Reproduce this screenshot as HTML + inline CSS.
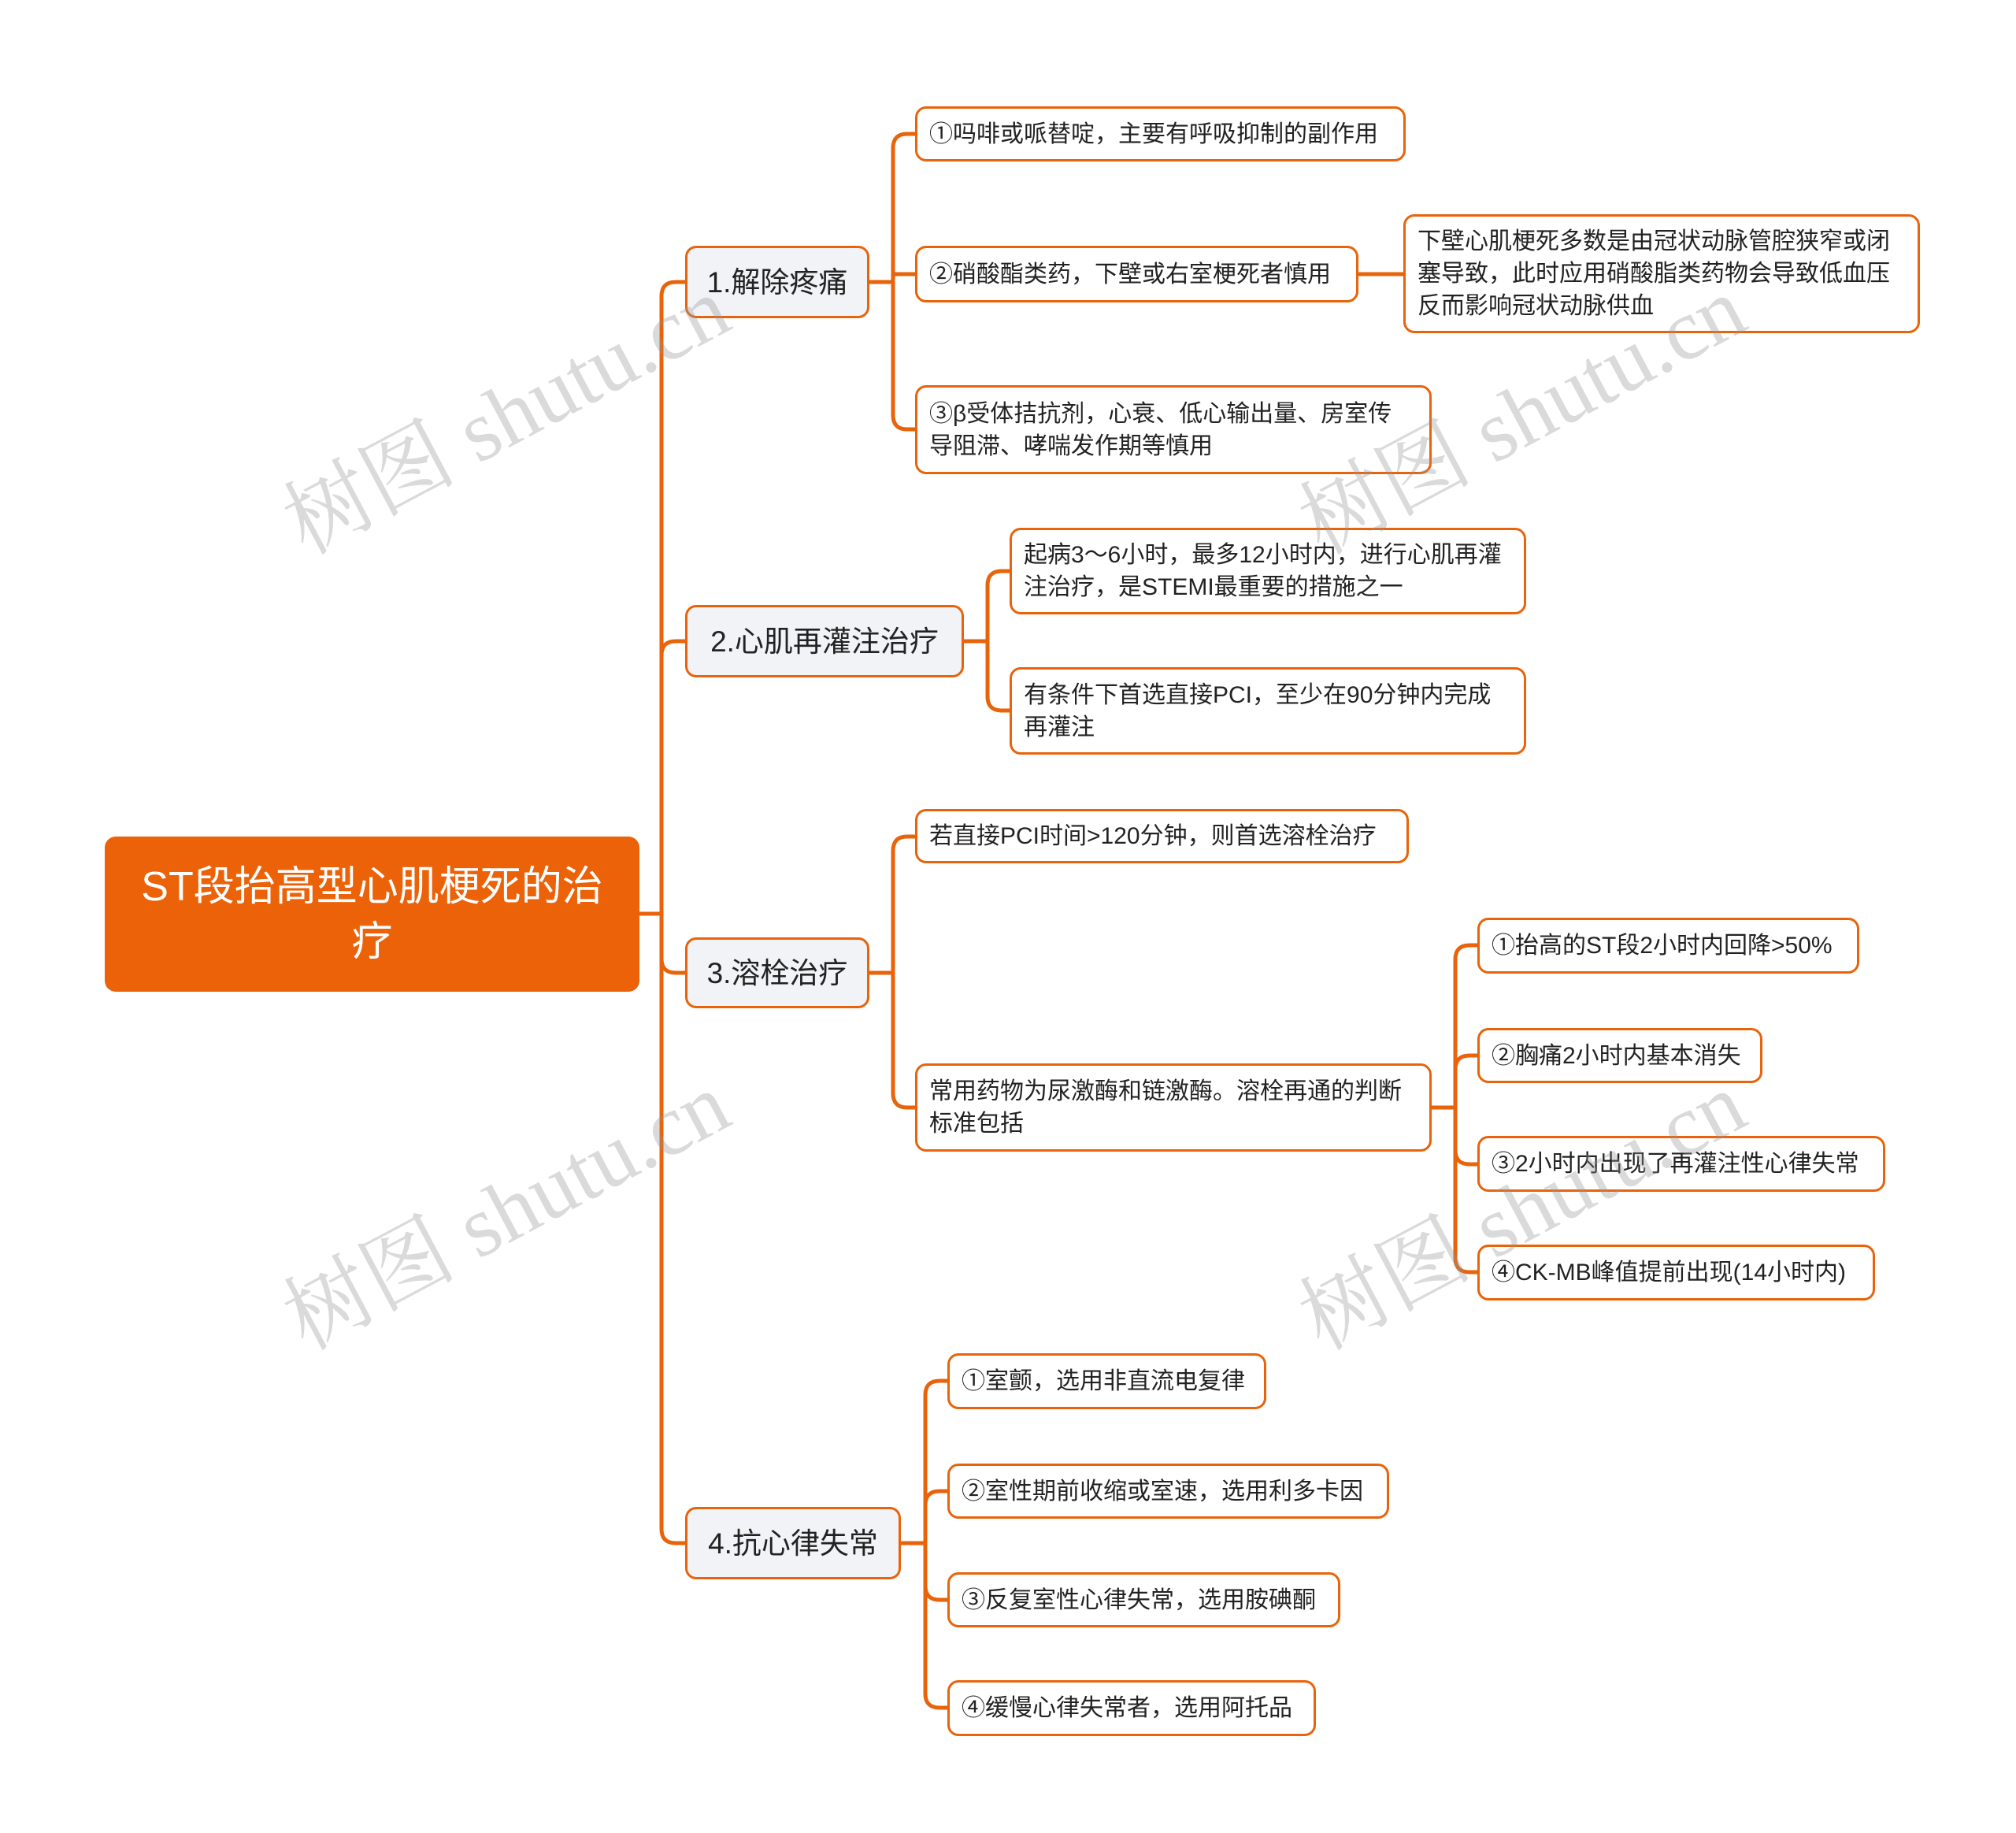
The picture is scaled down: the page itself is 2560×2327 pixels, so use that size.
<!DOCTYPE html>
<html><head><meta charset="utf-8"><style>
html,body{margin:0;padding:0;background:#fff}
body{width:2560px;height:2327px;position:relative;overflow:hidden;font-family:"Liberation Sans","Noto Sans CJK SC",sans-serif}
.b{position:absolute;box-sizing:border-box;border:3px solid #e8630a;border-radius:14px;background:#fff;color:#222;font-size:30px;line-height:41px;padding:0 15px;display:flex;align-items:center}
.l1{background:#f1f3f6;font-size:37px;justify-content:center;padding:0}
.root{position:absolute;left:133px;top:1062px;width:679px;height:197px;background:#eb6209;border-radius:14px;color:#fff;font-size:52px;line-height:70px;text-align:center;display:flex;align-items:center;justify-content:center;padding:0 30px;box-sizing:border-box}
.wm{position:absolute;font-family:"Liberation Serif","Noto Serif CJK SC",serif;font-size:110px;color:rgba(150,150,150,0.35);transform:rotate(-28deg);white-space:nowrap;transform-origin:center}
svg{position:absolute;left:0;top:0}
</style></head><body>
<svg width="2560" height="2327" fill="none" stroke="#e8630a" stroke-width="5">
<path d="M812 1160 H840"/>
<path d="M840 1160 V376 Q840 358 858 358 H870"/>
<path d="M840 1160 V832 Q840 814 858 814 H870"/>
<path d="M840 1160 V1217 Q840 1235 858 1235 H870"/>
<path d="M840 1160 V1941 Q840 1959 858 1959 H870"/>
<path d="M1104 358 H1134"/>
<path d="M1134 358 V188 Q1134 170 1152 170 H1162"/>
<path d="M1134 358 V348 H1162"/>
<path d="M1134 358 V527 Q1134 545 1152 545 H1162"/>
<path d="M1725 348 H1782"/>
<path d="M1224 814 H1254"/>
<path d="M1254 814 V743 Q1254 725 1272 725 H1282"/>
<path d="M1254 814 V884 Q1254 902 1272 902 H1282"/>
<path d="M1104 1235 H1134"/>
<path d="M1134 1235 V1080 Q1134 1062 1152 1062 H1162"/>
<path d="M1134 1235 V1388 Q1134 1406 1152 1406 H1162"/>
<path d="M1818 1406 H1848"/>
<path d="M1848 1406 V1218 Q1848 1200 1866 1200 H1876"/>
<path d="M1848 1406 V1358 Q1848 1340 1866 1340 H1876"/>
<path d="M1848 1406 V1460 Q1848 1478 1866 1478 H1876"/>
<path d="M1848 1406 V1597 Q1848 1615 1866 1615 H1876"/>
<path d="M1144 1959 H1175"/>
<path d="M1175 1959 V1771 Q1175 1753 1193 1753 H1203"/>
<path d="M1175 1959 V1911 Q1175 1893 1193 1893 H1203"/>
<path d="M1175 1959 V2013 Q1175 2031 1193 2031 H1203"/>
<path d="M1175 1959 V2150 Q1175 2168 1193 2168 H1203"/>
</svg>

<div class="root">ST段抬高型心肌梗死的治疗</div>

<div class="b l1" style="left:870px;top:312px;width:234px;height:92px">1.解除疼痛</div>
<div class="b l1" style="left:870px;top:768px;width:354px;height:92px">2.心肌再灌注治疗</div>
<div class="b l1" style="left:870px;top:1190px;width:234px;height:90px">3.溶栓治疗</div>
<div class="b l1" style="left:870px;top:1913px;width:274px;height:92px">4.抗心律失常</div>

<div class="b" style="left:1162px;top:135px;width:623px;height:70px">①吗啡或哌替啶，主要有呼吸抑制的副作用</div>
<div class="b" style="left:1162px;top:312px;width:563px;height:72px">②硝酸酯类药，下壁或右室梗死者慎用</div>
<div class="b" style="left:1162px;top:489px;width:656px;height:113px"><span>③β受体拮抗剂，心衰、低心输出量、房室传<br>导阻滞、哮喘发作期等慎用</span></div>
<div class="b" style="left:1782px;top:272px;width:656px;height:151px">下壁心肌梗死多数是由冠状动脉管腔狭窄或闭塞导致，此时应用硝酸脂类药物会导致低血压反而影响冠状动脉供血</div>

<div class="b" style="left:1282px;top:670px;width:656px;height:110px">起病3～6小时，最多12小时内，进行心肌再灌注治疗，是STEMI最重要的措施之一</div>
<div class="b" style="left:1282px;top:847px;width:656px;height:111px">有条件下首选直接PCI，至少在90分钟内完成再灌注</div>

<div class="b" style="left:1162px;top:1027px;width:627px;height:69px">若直接PCI时间&gt;120分钟，则首选溶栓治疗</div>
<div class="b" style="left:1162px;top:1350px;width:656px;height:112px">常用药物为尿激酶和链激酶。溶栓再通的判断标准包括</div>

<div class="b" style="left:1876px;top:1165px;width:485px;height:71px">①抬高的ST段2小时内回降&gt;50%</div>
<div class="b" style="left:1876px;top:1305px;width:362px;height:70px">②胸痛2小时内基本消失</div>
<div class="b" style="left:1876px;top:1442px;width:518px;height:71px">③2小时内出现了再灌注性心律失常</div>
<div class="b" style="left:1876px;top:1580px;width:505px;height:71px">④CK-MB峰值提前出现(14小时内)</div>

<div class="b" style="left:1203px;top:1718px;width:405px;height:71px">①室颤，选用非直流电复律</div>
<div class="b" style="left:1203px;top:1858px;width:561px;height:70px">②室性期前收缩或室速，选用利多卡因</div>
<div class="b" style="left:1203px;top:1996px;width:499px;height:70px">③反复室性心律失常，选用胺碘酮</div>
<div class="b" style="left:1203px;top:2133px;width:468px;height:71px">④缓慢心律失常者，选用阿托品</div>

<div class="wm" style="left:330px;top:440px">树图 shutu.cn</div>
<div class="wm" style="left:1620px;top:440px">树图 shutu.cn</div>
<div class="wm" style="left:330px;top:1450px">树图 shutu.cn</div>
<div class="wm" style="left:1620px;top:1450px">树图 shutu.cn</div>
</body></html>
